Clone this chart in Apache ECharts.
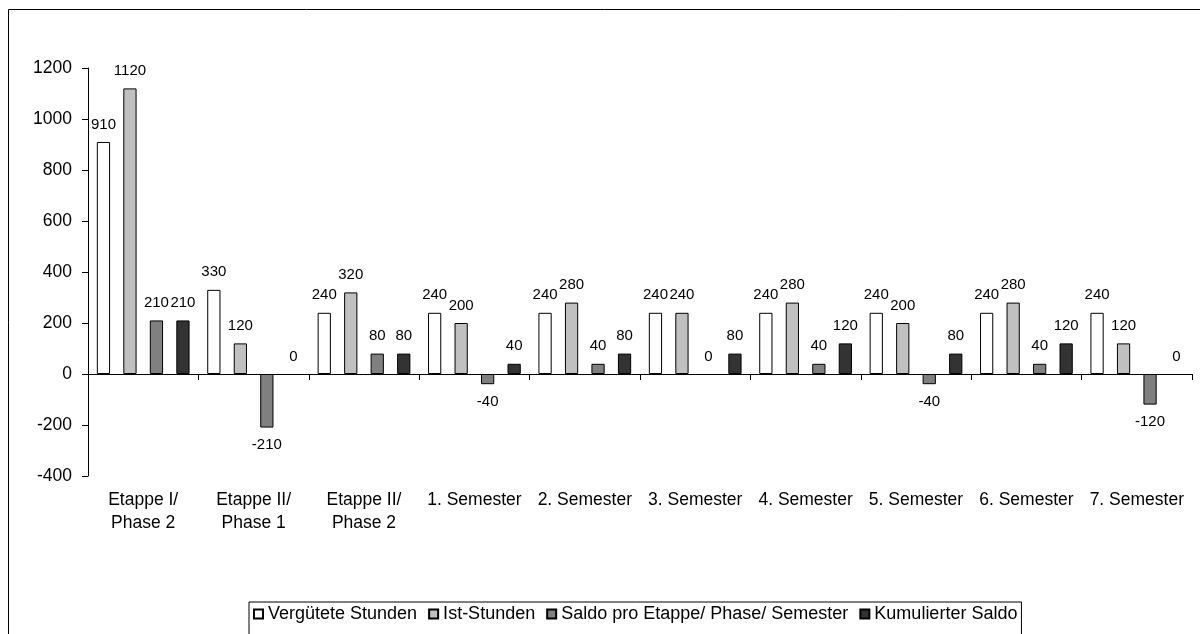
<!DOCTYPE html>
<html>
<head>
<meta charset="utf-8">
<script src="https://cdn.jsdelivr.net/npm/echarts@6/dist/echarts.min.js"></script>
<style>
  html, body { margin: 0; padding: 0; background: #ffffff; }
  #chart { width: 1200px; height: 634px; }
</style>
</head>
<body>
<div id="chart"></div>
<script>
// Stundenbilanz je Etappe / Phase / Semester
const categories = [
  'Etappe I/\nPhase 2', 'Etappe II/\nPhase 1', 'Etappe II/\nPhase 2',
  '1. Semester', '2. Semester', '3. Semester', '4. Semester',
  '5. Semester', '6. Semester', '7. Semester'
];
const seriesNames = [
  'Vergütete Stunden', 'Ist-Stunden',
  'Saldo pro Etappe/ Phase/ Semester', 'Kumulierter Saldo'
];
const verguetet = [910, 330, 240, 240, 240, 240, 240, 240, 240, 240];
const istStunden = [1120, 120, 320, 200, 280, 240, 280, 200, 280, 120];
const saldo = [210, -210, 80, -40, 40, 0, 40, -40, 40, -120];
const kumuliert = [210, 0, 80, 40, 80, 80, 120, 80, 120, 0];
const yTicks = { min: -400, max: 1200, step: 200 };

const FONT = 'Liberation Sans, Arial, Helvetica, sans-serif';
const fills = ['#ffffff', '#c0c0c0', '#808080', '#333333'];
const values = [verguetet, istStunden, saldo, kumuliert];

const chart = echarts.init(document.getElementById('chart'), null, { renderer: 'canvas' });

// Zero values keep their label above the axis and draw no outline.
function toItems(data) {
  return data.map(v => v === 0
    ? { value: v, label: { position: 'top' }, itemStyle: { borderWidth: 0 } }
    : v);
}

const series = values.map((data, i) => ({
  name: seriesNames[i],
  type: 'bar',
  xAxisIndex: 0,
  data: toItems(data),
  barGap: '100%',
  barCategoryGap: '16%',
  itemStyle: { color: fills[i], borderColor: '#000000', borderWidth: 1 },
  emphasis: { disabled: true },
  label: {
    show: true,
    position: 'outside',
    distance: 10,
    color: '#000000',
    fontFamily: FONT,
    fontSize: 15
  }
}));

chart.setOption({
  animation: false,
  backgroundColor: '#ffffff',
  textStyle: { fontFamily: FONT, color: '#000000' },
  graphic: [{
    type: 'rect',
    silent: true,
    shape: { x: 8.5, y: 9.5, width: 1400, height: 800 },
    style: { fill: null, stroke: '#000000', lineWidth: 1 },
    z: 100
  }],
  legend: {
    left: 249,
    top: 602,
    orient: 'horizontal',
    icon: 'rect',
    itemWidth: 9,
    itemHeight: 9,
    itemGap: 11,
    padding: [3, 4, 14, 4],
    borderColor: '#000000',
    borderWidth: 1,
    textStyle: { fontFamily: FONT, fontSize: 18, color: '#000000' },
    data: seriesNames
  },
  grid: { left: 88, right: 8, top: 68, bottom: 158, containLabel: false },
  xAxis: [
    {
      type: 'category',
      data: categories,
      axisLine: { onZero: true, lineStyle: { color: '#000000', width: 1 } },
      axisTick: { show: true, length: 6, lineStyle: { color: '#000000' } },
      axisLabel: { show: false },
      splitLine: { show: false }
    },
    {
      type: 'category',
      data: categories,
      position: 'bottom',
      axisLine: { show: false, onZero: false },
      axisTick: { show: false },
      axisLabel: {
        show: true,
        interval: 0,
        margin: 13,
        fontFamily: FONT,
        fontSize: 17.5,
        lineHeight: 23,
        color: '#000000'
      },
      splitLine: { show: false }
    }
  ],
  yAxis: {
    type: 'value',
    min: yTicks.min,
    max: yTicks.max,
    interval: yTicks.step,
    axisLine: { show: true, lineStyle: { color: '#000000', width: 1 } },
    axisTick: { show: true, length: 6, lineStyle: { color: '#000000' } },
    axisLabel: {
      margin: 16,
      fontFamily: FONT,
      fontSize: 17.5,
      color: '#000000',
      formatter: v => String(v)
    },
    splitLine: { show: false }
  },
  series: series
});
</script>
</body>
</html>
